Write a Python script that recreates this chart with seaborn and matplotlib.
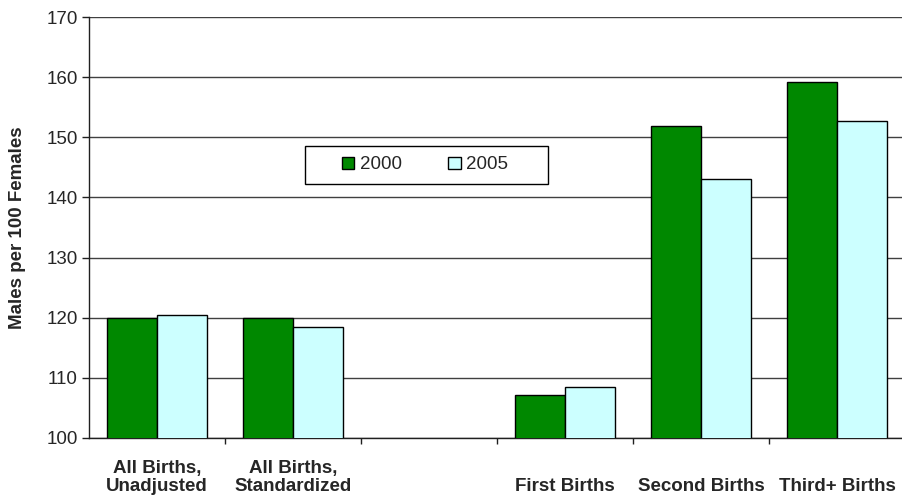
import matplotlib
matplotlib.use("Agg")
import matplotlib.pyplot as plt
import seaborn as sns
import pandas as pd
import numpy as np
from matplotlib.ticker import FixedLocator
from matplotlib.patches import Rectangle

# Sex ratio at birth by birth order
categories = ["All Births,\nUnadjusted", "All Births,\nStandardized", " ",
              "\nFirst Births", "\nSecond Births", "\nThird+ Births"]
years = ["2000", "2005"]
ratio_2000 = [120.0, 120.0, np.nan, 107.2, 151.9, 159.2]
ratio_2005 = [120.5, 118.5, np.nan, 108.4, 143.1, 152.7]
y_ticks = [100, 110, 120, 130, 140, 150, 160, 170]

df = pd.DataFrame({
    "category": categories * 2,
    "year": [years[0]] * len(categories) + [years[1]] * len(categories),
    "ratio": ratio_2000 + ratio_2005,
})

sns.set_style("white")
plt.rcParams["font.family"] = ["Liberation Sans", "DejaVu Sans"]

W, H = 903, 495
fig = plt.figure(figsize=(W / 100, H / 100), dpi=100)
ax = fig.add_axes([89 / W, 1 - 438 / H, 816 / W, 421 / H])

palette = {"2000": "#008800", "2005": "#CCFFFF"}
sns.barplot(data=df, x="category", y="ratio", hue="year", order=categories,
            hue_order=years, palette=palette, width=0.735, gap=0,
            edgecolor="black", linewidth=1.0, saturation=1, ax=ax,
            errorbar=None, zorder=3)

ax.set_ylim(100, 170)
ax.set_xlim(-0.5, len(categories) - 0.5)
ax.set_yticks(y_ticks)
ax.yaxis.grid(True, color="#404040", linewidth=1.0, zorder=0)
ax.set_axisbelow(True)

for side in ["top", "right"]:
    ax.spines[side].set_visible(False)
for side in ["left", "bottom"]:
    ax.spines[side].set_color("#202020")
    ax.spines[side].set_linewidth(1.0)

ax.tick_params(axis="y", which="major", left=True, length=5, width=1,
               color="#202020", labelsize=13.5, pad=3)
ax.tick_params(axis="x", which="major", bottom=False, labelsize=13.5, pad=12)
ax.xaxis.set_minor_locator(FixedLocator(np.arange(0.5, len(categories) - 1, 1.0)))
ax.tick_params(axis="x", which="minor", bottom=True, length=4, width=1,
               color="#202020", direction="out")
for lbl in ax.get_xticklabels():
    lbl.set_fontweight("bold")
    lbl.set_linespacing(1.1)

ax.set_xlabel("")
ax.set_ylabel("Males per 100 Females", fontsize=13.5, fontweight="bold")
ax.yaxis.set_label_coords(-0.077, 0.5)

# Legend entries without frame, with a separate rectangular box around them
handles, labels = ax.get_legend_handles_labels()
leg = ax.legend(handles, labels, loc="center", ncol=2,
                bbox_to_anchor=(425 / W, 1 - 165 / H),
                bbox_transform=fig.transFigure,
                frameon=False, fontsize=13.5, handlelength=0.65,
                handleheight=0.65, handletextpad=0.27, columnspacing=2.5,
                borderpad=0, borderaxespad=0)
fig.patches.append(Rectangle((305 / W, 1 - 184 / H), 243 / W, 38 / H,
                             transform=fig.transFigure, fill=False,
                             edgecolor="black", linewidth=1.0, zorder=5))

fig.savefig("out.png", dpi=100)
